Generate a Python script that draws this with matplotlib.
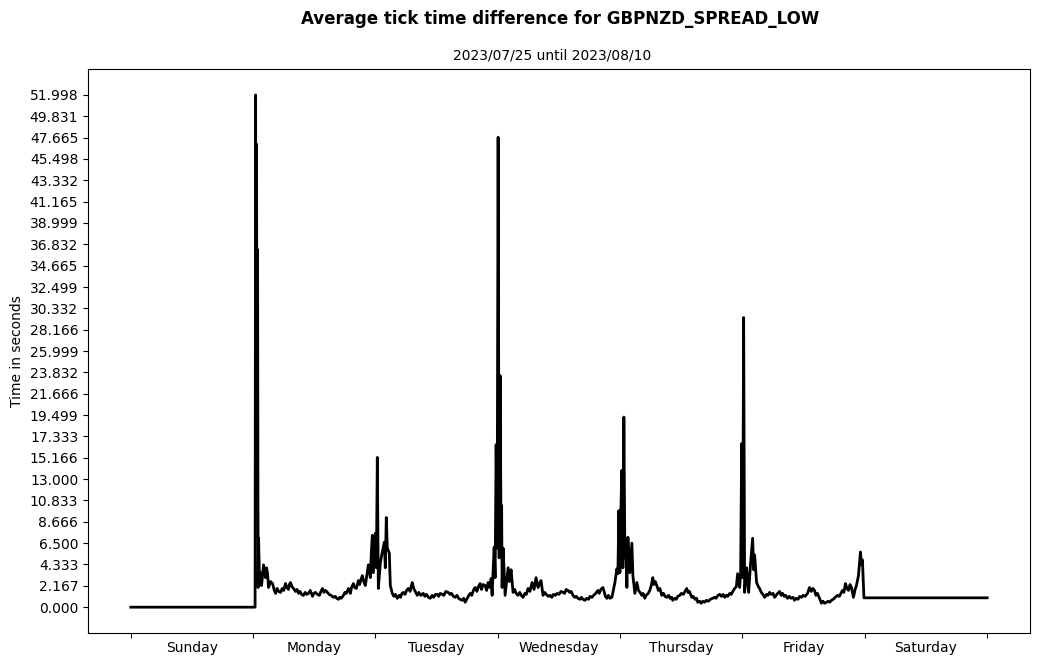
import numpy as np
import matplotlib
matplotlib.use("Agg")
import matplotlib.pyplot as plt

# hours since Sunday 00:00 and the average tick gap (seconds), one pair of lists per stretch
open_hours = [0.00, 24.38, 24.48, 24.57, 24.67, 24.77, 24.87, 24.97, 25.06, 25.26,
              25.46, 25.65, 26.04, 26.43, 26.63, 26.83]
open_vals = [0.0, 0.0, 51.99805, 20.0, 47.0, 10.0, 36.3, 2.0, 7.0, 2.5,
             3.5, 2.2, 4.3, 3.0, 4.0, 3.4]

mon_hours = [27.02, 27.4, 27.8, 28.1, 28.39, 28.7, 29.0, 29.37, 29.7, 30.0,
             30.35, 30.6, 30.94, 31.1, 31.33, 31.6, 31.92, 32.3, 32.6, 32.90,
             33.2, 33.5, 33.87, 34.2, 34.5, 34.85, 35.2, 35.64, 35.9, 36.22,
             36.6, 37.01, 37.3, 37.60, 37.9, 38.2, 38.57, 38.9, 39.3, 39.75,
             40.1, 40.4, 40.73, 41.0, 41.3, 41.71, 42.0, 42.3, 42.69, 43.08,
             43.3, 43.67, 43.9, 44.25, 44.64, 44.9, 45.2, 45.43, 45.7, 46.01]
mon_vals = [2.0, 2.6, 2.4, 1.8, 1.4, 1.9, 1.6, 1.5, 1.9, 1.7,
            2.4, 2.0, 1.8, 2.3, 2.5, 2.1, 1.9, 1.6, 1.8, 1.4,
            1.6, 1.3, 1.2, 1.5, 1.3, 1.4, 1.7, 1.1, 1.4, 1.5,
            1.3, 1.2, 1.6, 1.9, 1.5, 1.7, 1.5, 1.3, 1.2, 1.0,
            1.1, 0.9, 0.8, 1.0, 0.9, 1.2, 1.5, 1.4, 1.9, 1.4,
            2.0, 2.4, 2.0, 1.9, 2.7, 2.3, 2.9, 3.2, 2.6, 2.2]

mon_eve_hours = [46.60, 46.99, 47.19, 47.38, 47.58, 47.97, 48.17, 48.36, 48.56, 48.95,
                 49.34, 49.73, 49.93, 50.12, 50.32, 50.71, 50.91]
mon_eve_vals = [4.3, 3.0, 5.6, 7.3, 3.5, 7.5, 4.0, 15.2, 1.9, 4.5,
                5.6, 6.6, 4.0, 9.1, 6.0, 5.5, 2.2]

tue_hours = [51.30, 51.6, 51.9, 52.28, 52.6, 52.9, 53.2, 53.46, 53.8, 54.1,
             54.43, 54.8, 55.0, 55.22, 55.5, 55.8, 56.20, 56.5, 56.9, 57.37,
             57.7, 58.0, 58.4, 58.74, 59.1, 59.4, 59.8, 60.11, 60.4, 60.7,
             61.09, 61.4, 61.8, 62.27, 62.6, 62.9, 63.3, 63.64, 64.0, 64.3,
             64.6, 65.01, 65.3, 65.60, 65.9, 66.2, 66.58, 66.9, 67.2, 67.55,
             67.9, 68.2, 68.53, 68.8, 69.1, 69.51, 69.8, 70.10, 70.4, 70.69]
tue_vals = [1.4, 1.1, 1.3, 0.9, 1.2, 1.0, 1.4, 1.5, 1.3, 1.7,
            1.9, 1.6, 2.1, 2.5, 1.9, 1.6, 1.2, 1.5, 1.2, 1.4,
            1.1, 1.3, 1.0, 0.9, 1.2, 1.0, 1.3, 1.3, 1.1, 1.4,
            1.3, 1.2, 1.6, 1.5, 1.3, 1.4, 1.1, 1.0, 1.2, 0.9,
            0.8, 0.7, 0.9, 0.5, 0.8, 1.1, 1.4, 1.2, 1.7, 2.0,
            1.6, 2.1, 2.4, 1.8, 2.3, 2.2, 1.7, 2.5, 2.0, 2.9]

tue_eve_hours = [70.88, 71.28, 71.47, 71.67, 71.86, 72.06, 72.26, 72.45, 72.65, 72.75,
                 72.84, 73.04, 73.43, 74.02, 74.31, 74.60]
tue_eve_vals = [1.2, 6.1, 3.0, 16.5, 6.0, 47.7, 5.0, 23.5, 6.0, 10.3,
                2.0, 6.0, 1.2, 4.0, 2.6, 3.8]

wed_hours = [74.99, 75.3, 75.6, 75.97, 76.3, 76.6, 76.95, 77.3, 77.6, 77.93,
             78.3, 78.72, 79.11, 79.50, 79.89, 80.2, 80.48, 80.87, 81.2, 81.5,
             81.9, 82.24, 82.6, 82.9, 83.3, 83.61, 84.0, 84.4, 84.79, 85.1,
             85.4, 85.76, 86.1, 86.4, 86.74, 87.1, 87.4, 87.72, 88.1, 88.4,
             88.7, 89.09, 89.4, 89.8, 90.1, 90.46, 90.8, 91.2, 91.64, 91.9,
             92.2, 92.62, 92.9, 93.1, 93.40, 93.7, 94.0, 94.38]
wed_vals = [1.5, 1.8, 1.4, 1.2, 1.5, 1.2, 1.0, 1.4, 1.3, 1.9,
            1.6, 2.5, 1.8, 3.0, 2.0, 2.4, 2.7, 1.2, 1.5, 1.3,
            1.1, 1.2, 1.0, 1.3, 1.2, 1.4, 1.3, 1.6, 1.5, 1.4,
            1.8, 1.7, 1.5, 1.6, 1.2, 1.0, 1.1, 0.9, 0.8, 1.0,
            0.8, 0.7, 0.9, 0.8, 1.1, 1.0, 1.2, 1.4, 1.7, 1.4,
            1.8, 2.0, 1.5, 1.1, 0.9, 1.2, 0.9, 1.0]

wed_eve_hours = [94.97, 95.36, 95.56, 95.75, 95.95, 96.14, 96.34, 96.54, 96.73, 96.93,
                 97.12, 97.32, 97.52, 97.91, 98.30, 98.50, 98.89]
wed_eve_vals = [2.5, 3.9, 3.4, 9.8, 3.5, 9.7, 13.9, 4.0, 19.3, 5.0,
                6.5, 2.0, 7.1, 3.5, 6.5, 3.2, 1.4]

thu_hours = [99.28, 99.6, 99.9, 100.25, 100.5, 100.84, 101.1, 101.5, 101.82, 102.1,
             102.41, 102.6, 102.9, 103.19, 103.5, 103.8, 104.17, 104.5, 104.8, 105.15,
             105.5, 105.8, 106.1, 106.32, 106.7, 107.0, 107.3, 107.70, 108.0, 108.4,
             108.7, 109.07, 109.3, 109.6, 110.05, 110.3, 110.7, 111.0, 111.22, 111.6,
             111.9, 112.2, 112.59, 112.9, 113.3, 113.7, 114.16, 114.5, 114.8, 115.2,
             115.53, 115.9, 116.2, 116.51, 116.8, 117.1, 117.49, 117.8, 118.1, 118.47,
             118.8, 119.05]
thu_vals = [2.5, 1.7, 1.5, 1.2, 1.4, 0.9, 1.2, 1.4, 1.7, 2.2,
            3.0, 2.3, 2.6, 2.2, 1.7, 1.9, 1.2, 1.4, 1.1, 1.0,
            1.2, 0.9, 1.0, 0.7, 0.9, 0.8, 1.1, 1.2, 1.4, 1.3,
            1.6, 1.9, 1.5, 1.6, 1.0, 1.1, 0.8, 0.9, 0.5, 0.6,
            0.4, 0.6, 0.5, 0.7, 0.6, 0.8, 0.9, 1.0, 0.9, 1.2,
            1.3, 1.1, 1.3, 1.0, 1.2, 1.1, 1.4, 1.3, 1.6, 1.9,
            2.1, 3.4]

thu_eve_hours = [119.44, 119.64, 119.84, 120.03, 120.23, 120.42, 120.82, 121.21, 121.60, 121.99,
                 122.19, 122.38]
thu_eve_vals = [2.0, 3.5, 16.6, 3.0, 29.4, 1.5, 4.0, 1.5, 4.5, 7.0,
                3.8, 5.3]

fri_hours = [122.77, 123.1, 123.36, 123.7, 124.0, 124.34, 124.7, 125.0, 125.32, 125.6,
             126.0, 126.30, 126.6, 126.9, 127.28, 127.6, 127.87, 128.2, 128.5, 128.84,
             129.2, 129.5, 129.9, 130.21, 130.5, 130.9, 131.2, 131.58, 131.9, 132.3,
             132.76, 133.15, 133.5, 133.8, 134.13, 134.4, 134.72, 135.1, 135.50, 135.8,
             136.1, 136.48, 136.8, 137.1, 137.46, 137.8, 138.2, 138.64, 139.0, 139.3,
             139.61, 139.9, 140.20, 140.5, 140.79, 141.1, 141.38, 141.77, 142.1, 142.36]
fri_vals = [2.5, 2.1, 1.9, 1.5, 1.3, 1.0, 1.3, 1.2, 1.5, 1.3,
            1.4, 1.0, 1.2, 1.4, 1.6, 1.2, 1.4, 1.1, 1.2, 0.9,
            1.1, 0.9, 1.0, 0.7, 0.9, 0.8, 1.1, 1.0, 1.2, 1.1,
            1.4, 2.0, 1.6, 1.9, 1.7, 1.2, 1.4, 0.9, 0.4, 0.6,
            0.4, 0.5, 0.6, 0.5, 0.7, 0.8, 1.0, 1.2, 1.1, 1.4,
            1.7, 1.5, 2.4, 1.9, 1.7, 2.3, 2.0, 1.0, 1.8, 2.2]

close_hours = [142.75, 143.14, 143.34, 143.53, 143.83, 168.00]
close_vals = [3.2, 5.6, 4.3, 4.8, 0.95, 0.95]

day_names = ["Sunday", "Monday", "Tuesday", "Wednesday", "Thursday", "Friday", "Saturday"]

hours = np.concatenate([open_hours, mon_hours, mon_eve_hours, tue_hours, tue_eve_hours,
                        wed_hours, wed_eve_hours, thu_hours, thu_eve_hours, fri_hours, close_hours])
tick_diff = np.concatenate([open_vals, mon_vals, mon_eve_vals, tue_vals, tue_eve_vals,
                            wed_vals, wed_eve_vals, thu_vals, thu_eve_vals, fri_vals, close_vals])

fig = plt.figure(figsize=(10.39, 6.64), dpi=100)
ax = fig.add_axes([0.0847, 0.0470, 0.9066, 0.8486])

ax.plot(hours, tick_diff, color="black", linewidth=2)

# day boundaries as major ticks, day names centred between them
ax.set_xticks(np.arange(0, 169, 24))
ax.set_xticklabels([])
ax.set_xticks(np.arange(12, 168, 24), minor=True)
ax.set_xticklabels(day_names, minor=True)
ax.tick_params(axis="x", which="minor", length=0, pad=6)

ymax = tick_diff.max()
yt = np.linspace(0, ymax, 25)
ax.set_yticks(yt)
ax.set_yticklabels([f"{v:.3f}" for v in yt])
ax.set_ylabel("Time in seconds")

fig.text(0.539, 0.972, "Average tick time difference for GBPNZD_SPREAD_LOW",
         ha="center", va="center", fontsize=12, fontweight="bold")
fig.text(0.531, 0.917, "2023/07/25 until 2023/08/10", ha="center", va="center", fontsize=10)

fig.savefig("out.png", dpi=100)
